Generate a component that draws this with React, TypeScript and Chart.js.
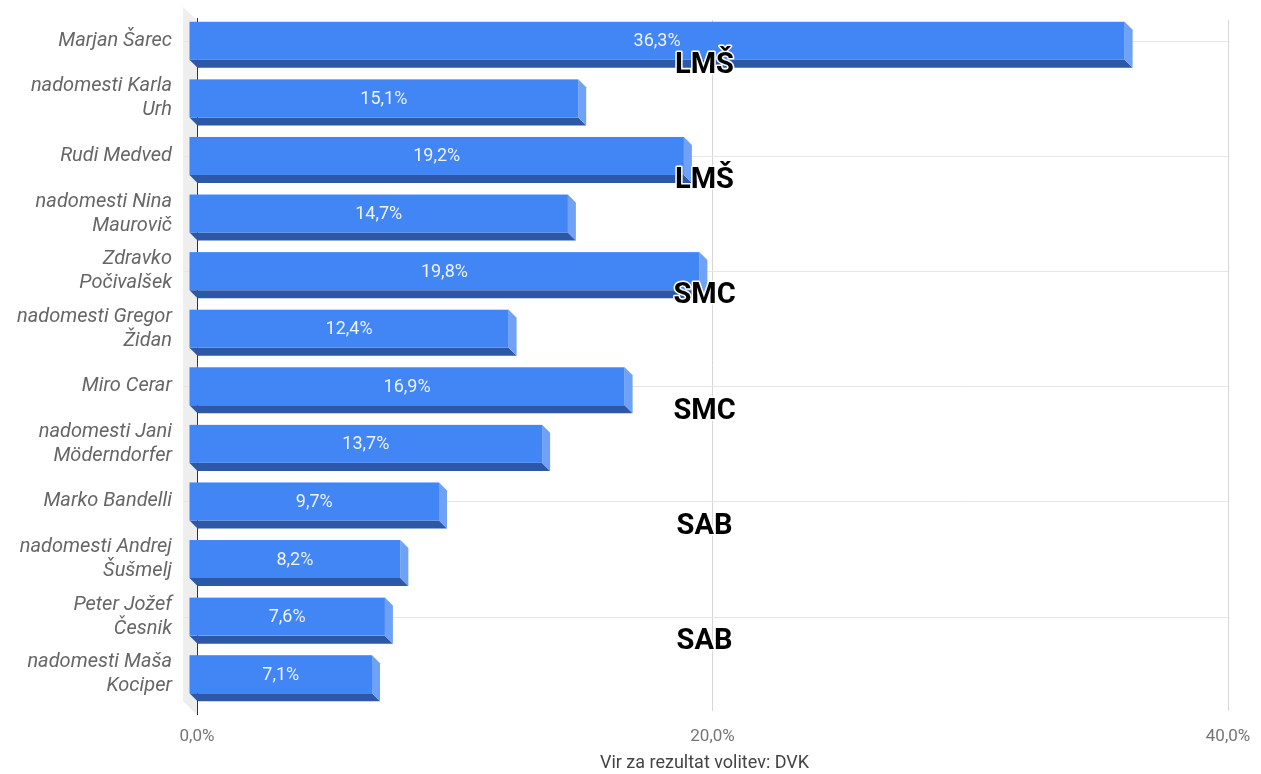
import React, { useEffect, useRef } from "react";
import { Chart, registerables } from "chart.js";

Chart.register(...registerables);

const categories: (string | string[])[] = [
  "Marjan Šarec",
  ["nadomesti Karla", "Urh"],
  "Rudi Medved",
  ["nadomesti Nina", "Maurovič"],
  ["Zdravko", "Počivalšek"],
  ["nadomesti Gregor", "Židan"],
  "Miro Cerar",
  ["nadomesti Jani", "Möderndorfer"],
  "Marko Bandelli",
  ["nadomesti Andrej", "Šušmelj"],
  ["Peter Jožef", "Česnik"],
  ["nadomesti Maša", "Kociper"],
];

const values: number[] = [36.3, 15.1, 19.2, 14.7, 19.8, 12.4, 16.9, 13.7, 9.7, 8.2, 7.6, 7.1];

// party label for each pair of rows (rows 0,2,4,...)
const partyLabels: string[] = ["LMŠ", "LMŠ", "SMC", "SMC", "SAB", "SAB"];

const xTickValues: number[] = [0, 20, 40];

const sourceText = "Vir za rezultat volitev: DVK";

const fmt = (v: number) => v.toFixed(1).replace(".", ",") + "%";

const DEPTH = 8;
const FRONT = "#4285f4";
const SIDE = "#6fa1f6";
const BOTTOM = "#2c58a5";

const threeDPlugin = {
  id: "threeD",
  beforeDatasetsDraw(chart: any) {
    const { ctx, chartArea } = chart;
    const { left, right, top, bottom } = chartArea;
    const yScale = chart.scales.y;
    ctx.save();
    // side wall
    ctx.fillStyle = "#eeeeee";
    ctx.beginPath();
    ctx.moveTo(left - 14, top - 13);
    ctx.lineTo(left, top);
    ctx.lineTo(left, bottom + 4);
    ctx.lineTo(left - 14, bottom - 10);
    ctx.closePath();
    ctx.fill();
    // horizontal gridlines at even rows (front plane)
    ctx.strokeStyle = "#e6e6e6";
    ctx.lineWidth = 1;
    for (let i = 0; i < categories.length; i += 2) {
      const y = Math.round(yScale.getPixelForValue(i) - DEPTH) + 0.5;
      ctx.beginPath();
      ctx.moveTo(left - 14, y);
      ctx.lineTo(right, y);
      ctx.stroke();
    }
    // zero line
    const x0 = Math.round(chart.scales.x.getPixelForValue(0)) + 0.5;
    ctx.strokeStyle = "#333333";
    ctx.beginPath();
    ctx.moveTo(x0, top - 2);
    ctx.lineTo(x0, bottom + 4);
    ctx.stroke();
    ctx.restore();
  },
  beforeDatasetDraw() {
    return false;
  },
  afterDatasetsDraw(chart: any) {
    const { ctx } = chart;
    const meta = chart.getDatasetMeta(0);
    const xScale = chart.scales.x;
    const yScale = chart.scales.y;
    ctx.save();
    meta.data.forEach((el: any, i: number) => {
      const { x, y, base, height } = el.getProps(["x", "y", "base", "height"], true);
      const bx0 = base;
      const bx1 = x;
      const by0 = y - height / 2;
      const by1 = y + height / 2;
      const fx0 = bx0 - DEPTH;
      const fx1 = bx1 - DEPTH;
      const fy0 = by0 - DEPTH;
      const fy1 = by1 - DEPTH;
      // bottom face
      ctx.fillStyle = BOTTOM;
      ctx.beginPath();
      ctx.moveTo(fx0, fy1);
      ctx.lineTo(fx1, fy1);
      ctx.lineTo(bx1, by1);
      ctx.lineTo(bx0, by1);
      ctx.closePath();
      ctx.fill();
      // right face
      ctx.fillStyle = SIDE;
      ctx.beginPath();
      ctx.moveTo(fx1, fy0);
      ctx.lineTo(bx1, by0);
      ctx.lineTo(bx1, by1);
      ctx.lineTo(fx1, fy1);
      ctx.closePath();
      ctx.fill();
      // front face
      ctx.fillStyle = FRONT;
      ctx.fillRect(fx0, fy0, fx1 - fx0, fy1 - fy0);
      // value label
      ctx.fillStyle = "#eef3fe";
      ctx.font = "18px Roboto";
      ctx.textAlign = "center";
      ctx.textBaseline = "middle";
      ctx.fillText(fmt(values[i]), (fx0 + fx1) / 2, (fy0 + fy1) / 2 + 1);
    });
    // party labels
    ctx.font = "bold 29px Roboto";
    ctx.textAlign = "center";
    ctx.textBaseline = "middle";
    ctx.lineJoin = "round";
    const px = xScale.getPixelForValue(20) - DEPTH;
    partyLabels.forEach((lab, k) => {
      const py = yScale.getPixelForValue(k * 2) - DEPTH + 25;
      ctx.strokeStyle = "#ffffff";
      ctx.lineWidth = 3;
      ctx.strokeText(lab, px, py);
      ctx.fillStyle = "#000000";
      ctx.fillText(lab, px, py);
    });
    // source caption
    const { left, right } = chart.chartArea;
    ctx.font = "18px Roboto";
    ctx.fillStyle = "#444444";
    ctx.fillText(sourceText, (left + right) / 2 - DEPTH, 763);
    ctx.restore();
  },
};

export default function App() {
  const canvasRef = useRef<HTMLCanvasElement | null>(null);

  useEffect(() => {
    document.body.style.margin = "0";
    document.body.style.overflow = "hidden";
    const canvas = canvasRef.current;
    if (!canvas) return;
    Chart.defaults.font.family = "Roboto";
    const chart = new Chart(canvas, {
      type: "bar",
      data: {
        labels: categories as any,
        datasets: [
          {
            data: values,
            backgroundColor: FRONT,
            barPercentage: 0.66,
            categoryPercentage: 1,
          },
        ],
      },
      options: {
        indexAxis: "y",
        animation: false,
        responsive: false,
        layout: { padding: { top: 20, right: 33, left: 0, bottom: 0 } },
        plugins: {
          legend: { display: false },
          tooltip: { enabled: false },
          title: { display: false },
        },
        scales: {
          x: {
            min: 0,
            max: 40,
            afterBuildTicks: (scale: any) => {
              scale.ticks = xTickValues.map((v) => ({ value: v }));
            },
            afterFit: (scale: any) => {
              scale.height = 63;
            },
            border: { display: false },
            grid: {
              color: (c: any) => (c.tick && c.tick.value === 0 ? "rgba(0,0,0,0)" : "#d6d6d6"),
              drawTicks: true,
              tickLength: 16,
              tickColor: "rgba(0,0,0,0)",
            },
            ticks: {
              padding: 0,
              color: "#757575",
              font: { size: 17 },
              callback: (v: any) => fmt(Number(v)),
              maxRotation: 0,
            },
          },
          y: {
            afterFit: (scale: any) => {
              scale.width = 197;
              scale.paddingTop = 0;
              scale.paddingBottom = 0;
            },
            border: { display: false },
            grid: {
              display: false,
              drawTicks: true,
              tickLength: 25,
            },
            ticks: {
              padding: 0,
              color: "#666666",
              labelOffset: -DEPTH,
              font: { size: 20, style: "italic", lineHeight: 1.2 },
            },
          },
        },
      },
      plugins: [threeDPlugin],
    });
    return () => chart.destroy();
  }, []);

  return (
    <div style={{ width: 1261, height: 774 }}>
      <canvas ref={canvasRef} width={1261} height={774} style={{ display: "block", width: 1261, height: 774 }} />
    </div>
  );
}
